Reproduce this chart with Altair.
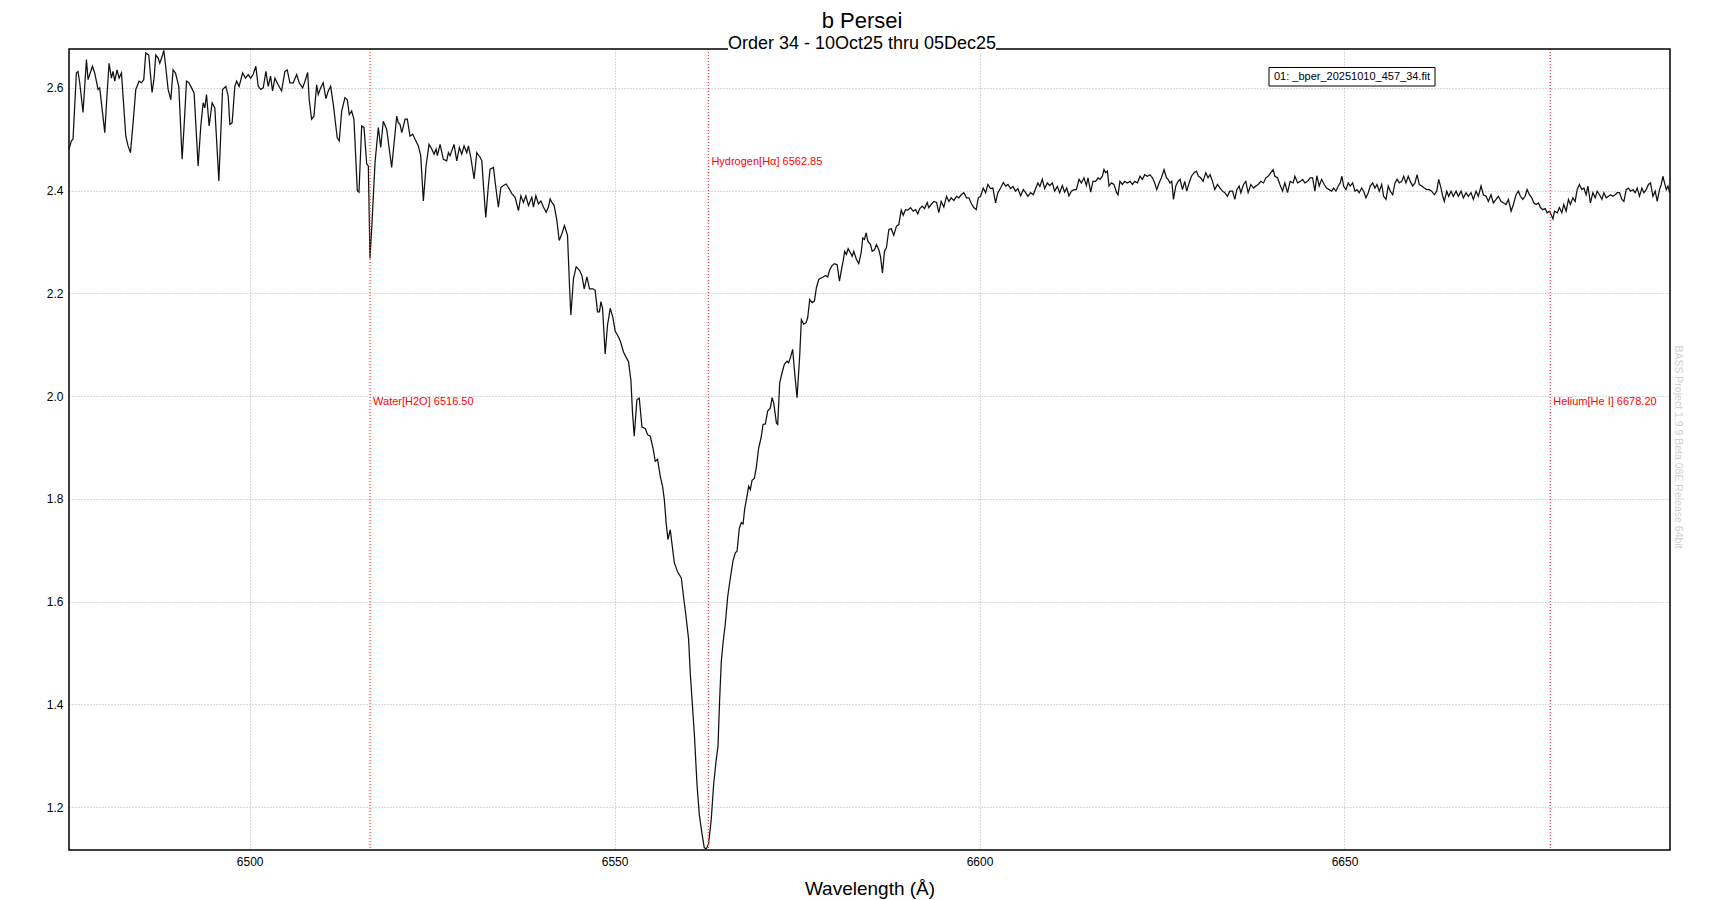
import altair as alt
import pandas as pd

# ---------------- data (wavelength in Angstrom, relative flux) ----------------
blue_continuum = [
    (6475.25,2.481),(6475.58,2.497),(6475.80,2.500),(6476.26,2.629),(6476.48,2.632),(6476.72,2.610),
    (6477.17,2.552),(6477.64,2.655),(6477.86,2.616),(6478.46,2.642),(6478.77,2.629),(6479.23,2.597),
    (6479.46,2.600),(6480.15,2.513),(6480.46,2.587),(6480.74,2.648),(6481.06,2.619),(6481.28,2.632),
    (6481.52,2.613),(6481.83,2.635),(6482.11,2.619),(6482.44,2.629),(6483.03,2.506),(6483.34,2.487),
    (6483.67,2.474),(6484.03,2.532),(6484.40,2.597),(6484.85,2.613),(6485.18,2.610),(6485.49,2.616),
    (6485.77,2.668),(6486.18,2.664),(6486.63,2.591),(6486.91,2.619),(6487.14,2.664),(6487.46,2.658),
    (6487.69,2.648),(6488.00,2.661),(6488.24,2.673),(6488.47,2.645),(6488.83,2.597),(6489.20,2.577),
    (6489.51,2.635),(6489.84,2.629),(6490.29,2.603),(6490.75,2.461),(6491.02,2.526),(6491.35,2.613),
    (6491.67,2.610),(6492.04,2.600),(6492.39,2.590),(6492.94,2.448),(6493.31,2.526),(6493.63,2.571),
    (6493.86,2.561),(6494.09,2.587),(6494.45,2.526),(6494.86,2.571),(6495.23,2.561),(6495.78,2.419),
    (6496.29,2.597),(6496.74,2.603),(6497.06,2.584),(6497.29,2.529),(6497.60,2.532),(6497.97,2.603),
    (6498.21,2.613),(6498.56,2.603),(6499.03,2.629),(6499.44,2.619),(6499.80,2.626),(6500.13,2.619),
    (6500.48,2.626),(6500.85,2.642),(6501.17,2.603),(6501.54,2.597),(6501.86,2.600),(6502.23,2.632),
    (6502.54,2.603),(6502.87,2.623),(6503.14,2.594),(6503.46,2.619),(6503.91,2.606),(6504.38,2.594),
    (6504.83,2.632),(6505.15,2.635),(6505.52,2.610),(6505.97,2.610),(6506.44,2.626),(6506.79,2.610),
    (6507.26,2.600),(6507.58,2.613),(6507.95,2.630),(6508.16,2.577),(6508.49,2.539),(6508.81,2.545),
    (6509.18,2.606),(6509.40,2.587),(6509.73,2.600),(6510.08,2.610),(6510.45,2.579),(6510.77,2.594),
    (6511.10,2.603),(6511.46,2.568),(6512.00,2.503),(6512.28,2.497),(6512.61,2.555),(6513.06,2.581),
    (6513.38,2.577),(6513.65,2.548),(6513.98,2.555),(6514.29,2.539),(6514.75,2.400),(6514.98,2.397),
    (6515.35,2.526),(6515.67,2.523),(6516.04,2.452),(6516.26,2.448),(6516.49,2.268),(6516.72,2.326),
    (6517.18,2.455),(6517.63,2.523),(6517.96,2.484),(6518.31,2.535),(6518.78,2.519),(6519.46,2.445),
    (6520.15,2.545),(6520.37,2.532),(6520.60,2.529),
]

blue_wing = [
    (6520.84,2.513),(6521.30,2.539),(6521.60,2.539),(6521.97,2.506),(6522.34,2.510),(6522.66,2.500),
    (6523.11,2.487),(6523.44,2.468),(6523.80,2.380),(6524.17,2.448),(6524.58,2.490),(6524.95,2.481),
    (6525.27,2.471),(6525.54,2.481),(6525.72,2.468),(6526.09,2.490),(6526.54,2.461),(6527.00,2.458),
    (6527.23,2.474),(6527.46,2.468),(6528.00,2.490),(6528.38,2.458),(6528.73,2.484),(6529.06,2.471),
    (6529.38,2.487),(6529.75,2.474),(6529.97,2.487),(6530.30,2.465),(6530.75,2.423),(6531.12,2.474),
    (6531.57,2.465),(6531.81,2.458),(6532.03,2.410),(6532.35,2.348),(6532.71,2.410),(6532.94,2.442),
    (6533.40,2.445),(6533.73,2.406),(6534.08,2.368),(6534.41,2.406),(6534.77,2.410),(6535.14,2.413),
    (6535.59,2.403),(6535.92,2.394),(6536.37,2.387),(6536.83,2.361),(6537.16,2.390),(6537.51,2.377),
    (6537.84,2.390),(6538.20,2.371),(6538.66,2.387),(6538.88,2.368),(6539.21,2.390),(6539.57,2.374),
    (6539.90,2.380),(6540.25,2.368),(6540.62,2.358),(6540.94,2.368),(6541.17,2.384),(6541.41,2.377),
    (6541.72,2.371),(6542.09,2.342),(6542.41,2.303),(6542.78,2.316),(6543.13,2.332),(6543.55,2.313),
    (6543.82,2.216),(6544.01,2.158),(6544.37,2.229),(6544.74,2.252),(6545.19,2.245),(6545.52,2.235),
    (6545.84,2.209),(6546.21,2.232),(6546.56,2.209),(6547.03,2.209),(6547.34,2.206),(6547.66,2.164),
    (6547.93,2.164),(6548.13,2.184),(6548.35,2.171),(6548.71,2.082),(6549.03,2.138),(6549.40,2.171),
    (6549.77,2.153),(6550.09,2.126),(6550.40,2.119),(6550.77,2.108),(6551.22,2.086),(6551.60,2.075),
    (6551.91,2.067),(6552.24,2.030),(6552.46,1.967),(6552.69,1.922),(6553.06,1.993),(6553.38,1.996),
    (6553.75,1.940),(6554.20,1.937),(6554.52,1.925),(6554.89,1.922),(6555.26,1.899),(6555.57,1.873),
    (6555.89,1.877),(6556.26,1.844),(6556.57,1.825),(6556.81,1.799),(6557.08,1.751),(6557.31,1.721),
    (6557.63,1.740),(6557.86,1.713),(6558.18,1.676),(6558.63,1.658),(6559.14,1.646),(6559.45,1.609),
    (6559.78,1.572),(6560.14,1.527),(6560.37,1.460),(6560.69,1.393),(6560.96,1.334),(6561.29,1.244),
    (6561.61,1.185),(6561.98,1.148),(6562.29,1.121),(6562.57,1.119),
]

red_wing = [
    (6562.88,1.129),(6563.25,1.177),(6563.57,1.244),(6563.90,1.289),(6564.17,1.319),(6564.39,1.408),
    (6564.62,1.483),(6564.86,1.520),(6565.17,1.557),(6565.49,1.609),(6565.86,1.646),(6566.23,1.680),
    (6566.54,1.695),(6566.78,1.698),(6567.09,1.743),(6567.37,1.754),(6567.60,1.751),(6567.82,1.780),
    (6568.15,1.806),(6568.37,1.825),(6568.60,1.818),(6568.83,1.836),(6569.15,1.840),(6569.42,1.862),
    (6569.74,1.899),(6570.07,1.919),(6570.34,1.945),(6570.66,1.946),(6570.97,1.971),(6571.34,1.977),
    (6571.58,1.997),(6571.80,1.987),(6572.17,1.948),(6572.35,1.945),(6572.62,2.026),(6572.95,2.046),
    (6573.26,2.062),(6573.63,2.068),(6573.85,2.065),(6574.09,2.075),(6574.40,2.091),(6574.63,2.052),
    (6575.00,1.997),(6575.36,2.078),(6575.59,2.149),(6575.91,2.140),(6576.24,2.143),(6576.46,2.153),
    (6576.73,2.188),(6577.06,2.182),(6577.38,2.185),(6577.65,2.211),(6577.97,2.227),(6578.30,2.230),
    (6578.57,2.232),(6578.89,2.235),(6579.20,2.232),(6579.48,2.246),(6579.80,2.254),(6580.12,2.258),
    (6580.49,2.256),(6580.81,2.224),(6581.04,2.243),(6581.31,2.263),(6581.53,2.282),(6581.77,2.276),
    (6582.00,2.287),(6582.31,2.279),(6582.55,2.272),(6582.77,2.282),(6583.14,2.266),(6583.45,2.258),
    (6583.78,2.279),(6584.00,2.308),(6584.24,2.305),(6584.47,2.318),(6584.69,2.302),(6585.06,2.295),
    (6585.29,2.282),(6585.61,2.285),(6585.88,2.295),(6586.20,2.285),(6586.43,2.272),(6586.70,2.240),
    (6586.98,2.282),(6587.25,2.289),(6587.57,2.324),(6587.90,2.326),(6588.25,2.313),(6588.62,2.331),
    (6588.94,2.334),(6589.27,2.362),(6589.54,2.352),(6589.86,2.363),(6590.17,2.362),(6590.54,2.367),
    (6590.91,2.360),(6591.23,2.363),(6591.54,2.355),(6591.82,2.365),(6592.15,2.370),(6592.46,2.365),
    (6592.83,2.377),(6593.05,2.367),(6593.38,2.373),(6593.74,2.379),(6594.11,2.377),(6594.42,2.357),
    (6594.75,2.379),(6595.11,2.368),(6595.48,2.389),(6595.80,2.379),(6596.12,2.386),(6596.48,2.381),
    (6596.85,2.389),(6597.16,2.386),(6597.49,2.392),(6597.85,2.396),(6598.22,2.386),(6598.54,2.386),
    (6598.87,2.375),(6599.22,2.367),(6599.55,2.363),(6599.83,2.386),
]

red_continuum = [
    (6600.14,2.389),(6600.51,2.405),(6600.83,2.396),(6601.14,2.412),(6601.51,2.404),(6601.83,2.405),
    (6602.20,2.376),(6602.51,2.396),(6602.89,2.405),(6603.26,2.416),(6603.57,2.409),(6603.89,2.412),
    (6604.26,2.404),(6604.57,2.408),(6604.94,2.399),(6605.26,2.404),(6605.63,2.390),(6606.00,2.402),
    (6606.31,2.396),(6606.63,2.389),(6607.00,2.396),(6607.37,2.392),(6607.69,2.404),(6608.00,2.415),
    (6608.27,2.408),(6608.60,2.422),(6608.92,2.404),(6609.29,2.415),(6609.60,2.410),(6609.98,2.415),
    (6610.29,2.399),(6610.66,2.408),(6610.98,2.396),(6611.35,2.410),(6611.66,2.397),(6611.94,2.405),
    (6612.25,2.390),(6612.58,2.399),(6612.94,2.402),(6613.27,2.402),(6613.63,2.422),(6613.95,2.415),
    (6614.31,2.425),(6614.64,2.410),(6614.86,2.425),(6615.23,2.397),(6615.54,2.418),(6615.91,2.418),
    (6616.23,2.425),(6616.50,2.422),(6616.83,2.428),(6617.05,2.441),(6617.28,2.435),(6617.52,2.438),
    (6617.74,2.409),(6618.07,2.415),(6618.42,2.412),(6618.79,2.396),(6618.97,2.392),(6619.24,2.418),
    (6619.57,2.412),(6619.89,2.418),(6620.26,2.415),(6620.62,2.418),(6620.95,2.412),(6621.26,2.418),
    (6621.63,2.415),(6621.99,2.428),(6622.32,2.422),(6622.63,2.431),(6623.00,2.428),(6623.36,2.431),
    (6623.69,2.425),(6624.00,2.415),(6624.28,2.402),(6624.60,2.415),(6624.92,2.425),(6625.28,2.441),
    (6625.61,2.425),(6625.83,2.422),(6626.10,2.415),(6626.34,2.418),(6626.57,2.383),(6626.89,2.409),
    (6627.20,2.418),(6627.48,2.422),(6627.80,2.402),(6628.12,2.418),(6628.39,2.399),(6628.71,2.415),
    (6629.04,2.428),(6629.39,2.435),(6629.72,2.438),(6630.00,2.428),(6630.31,2.425),(6630.63,2.418),
    (6631.00,2.435),(6631.31,2.425),(6631.59,2.431),(6631.92,2.418),(6632.23,2.402),(6632.60,2.412),
    (6632.96,2.405),(6633.29,2.399),(6633.60,2.396),(6633.97,2.389),(6634.29,2.399),(6634.66,2.399),
    (6634.98,2.383),(6635.25,2.402),(6635.57,2.409),(6635.80,2.396),(6636.17,2.412),(6636.48,2.418),
    (6636.80,2.396),(6637.17,2.412),(6637.54,2.405),(6637.86,2.409),(6638.17,2.412),(6638.54,2.418),
    (6638.91,2.415),(6639.23,2.425),(6639.54,2.428),(6639.91,2.435),(6640.23,2.441),(6640.46,2.428),
    (6640.83,2.425),(6641.15,2.412),(6641.52,2.399),(6641.83,2.415),(6642.20,2.396),(6642.56,2.418),
    (6642.97,2.415),(6643.21,2.428),(6643.58,2.415),(6643.93,2.418),(6644.26,2.422),(6644.58,2.415),
    (6644.95,2.418),(6645.30,2.425),(6645.63,2.425),(6645.95,2.399),(6646.22,2.429),(6646.54,2.409),
    (6646.87,2.422),(6647.22,2.412),(6647.55,2.405),(6647.91,2.402),(6648.24,2.399),(6648.51,2.405),
    (6648.83,2.399),(6649.15,2.409),(6649.42,2.415),(6649.65,2.428),(6649.88,2.409),(6650.20,2.402),
    (6650.51,2.415),(6650.79,2.409),(6651.12,2.415),(6651.43,2.399),(6651.71,2.402),(6652.02,2.396),
    (6652.35,2.405),(6652.62,2.399),(6652.94,2.386),(6653.26,2.396),(6653.53,2.409),(6653.86,2.415),
    (6654.18,2.405),(6654.45,2.412),(6654.77,2.399),(6655.10,2.412),(6655.37,2.389),(6655.69,2.383),
    (6656.00,2.409),(6656.28,2.399),(6656.61,2.392),(6656.92,2.415),(6657.20,2.422),(6657.51,2.415),
    (6657.84,2.418),(6658.11,2.428),(6658.43,2.415),(6658.74,2.428),(6659.02,2.418),(6659.35,2.409),
    (6659.66,2.415),(6659.94,2.431),(6660.25,2.412),(6660.58,2.409),(6660.94,2.405),(6661.27,2.402),
    (6661.62,2.402),(6661.95,2.399),(6662.31,2.392),(6662.64,2.399),(6662.91,2.422),(6663.23,2.405),
    (6663.46,2.389),(6663.68,2.379),(6664.01,2.399),(6664.28,2.389),(6664.60,2.399),(6664.91,2.389),
    (6665.29,2.399),(6665.60,2.389),(6665.97,2.399),(6666.29,2.386),(6666.66,2.396),(6666.97,2.389),
    (6667.34,2.396),(6667.66,2.383),(6668.03,2.399),(6668.34,2.389),(6668.71,2.409),(6669.03,2.392),
    (6669.40,2.389),(6669.71,2.379),(6670.08,2.392),(6670.40,2.376),(6670.77,2.383),(6671.08,2.389),
    (6671.45,2.379),(6671.82,2.376),(6672.14,2.373),(6672.46,2.383),(6672.83,2.360),(6673.14,2.373),
    (6673.51,2.392),(6673.83,2.399),(6674.10,2.389),(6674.43,2.383),(6674.75,2.389),(6675.02,2.402),
    (6675.34,2.392),(6675.67,2.386),(6675.95,2.376),(6676.26,2.373),(6676.58,2.376),(6676.85,2.367),
    (6677.18,2.363),(6677.50,2.365),(6677.77,2.357),(6678.09,2.360),(6678.32,2.353),(6678.56,2.345),
    (6678.78,2.360),(6679.15,2.357),(6679.45,2.367),(6679.78,2.357),(6680.05,2.373),(6680.37,2.360),
    (6680.69,2.383),(6680.96,2.373),(6681.29,2.386),(6681.60,2.379),(6681.88,2.402),(6682.19,2.412),
    (6682.52,2.402),(6682.80,2.405),(6683.11,2.392),(6683.35,2.409),(6683.70,2.376),(6684.03,2.396),
    (6684.35,2.386),(6684.62,2.399),(6684.94,2.392),(6685.27,2.383),(6685.54,2.396),(6685.86,2.386),
    (6686.17,2.389),(6686.45,2.392),(6686.78,2.389),(6687.09,2.392),(6687.37,2.396),(6687.68,2.396),
    (6688.01,2.383),(6688.28,2.379),(6688.60,2.402),(6688.91,2.405),(6689.19,2.399),(6689.52,2.402),
    (6689.83,2.396),(6690.11,2.405),(6690.42,2.389),(6690.75,2.405),(6691.02,2.396),(6691.34,2.402),
    (6691.65,2.412),(6691.93,2.415),(6692.26,2.389),(6692.57,2.399),(6692.85,2.379),(6693.16,2.402),
    (6693.40,2.412),(6693.63,2.428),(6693.85,2.415),(6694.09,2.402),(6694.32,2.409),(6694.55,2.396),
]

line_wavelengths = [6516.50, 6562.85, 6678.20]
line_labels = ["Water[H2O] 6516.50", "Hydrogen[H\u03b1] 6562.85", "Helium[He I] 6678.20"]
line_label_flux = [1.988, 2.455, 1.988]

x_ticks = [6500, 6550, 6600, 6650]
y_ticks = [1.2, 1.4, 1.6, 1.8, 2.0, 2.2, 2.4, 2.6]
x_domain = [6475.25, 6694.6]
y_domain = [1.1166, 2.6757]

title_text = "b Persei"
subtitle_text = "Order 34 - 10Oct25 thru 05Dec25"
legend_text = "01: _bper_20251010_457_34.fit"
watermark_text = "BASS Project 1.9.9 Beta 08E Release 64bit"

# ---------------- build ----------------
W, H = 1601, 801
FONT = "Liberation Sans"
NARROW = "Liberation Sans Narrow, Liberation Sans, Arial, sans-serif"

points = blue_continuum + blue_wing + red_wing + red_continuum
spec = pd.DataFrame(points, columns=["wavelength", "flux"])
lines_df = pd.DataFrame({"wavelength": line_wavelengths, "label": line_labels,
                         "ly": line_label_flux})
one = pd.DataFrame({"k": [0]})

x_scale = alt.Scale(domain=x_domain, nice=False, zero=False)
y_scale = alt.Scale(domain=y_domain, nice=False, zero=False)

x_axis = alt.Axis(values=x_ticks, format="d", title="Wavelength (\u00c5)", grid=True,
                  gridColor="#b4b4b4", gridDash=[1, 2], gridWidth=1, ticks=False, domain=False,
                  labelFont=NARROW, labelFontSize=12, labelColor="#000", labelPadding=6,
                  titleFont=FONT, titleFontSize=19, titleFontWeight="normal", titleColor="#000",
                  titleY=44, titleBaseline="alphabetic")
y_axis = alt.Axis(values=y_ticks, format=".1f", title=None, grid=True,
                  gridColor="#b4b4b4", gridDash=[1, 2], gridWidth=1, ticks=False, domain=False,
                  labelFont=NARROW, labelFontSize=12, labelColor="#000", labelPadding=6)

spectrum = alt.Chart(spec).mark_line(color="#111111", strokeWidth=1.25).encode(
    x=alt.X("wavelength:Q", scale=x_scale, axis=x_axis),
    y=alt.Y("flux:Q", scale=y_scale, axis=y_axis),
)

rules = alt.Chart(lines_df).mark_rule(color="#ff4040", strokeDash=[1, 2], strokeWidth=1.3).encode(
    x=alt.X("wavelength:Q", scale=x_scale)
)

labels = alt.Chart(lines_df).mark_text(align="left", baseline="middle", dx=3, color="#ff0000",
                                       font=NARROW, fontSize=11).encode(
    x=alt.X("wavelength:Q", scale=x_scale),
    y=alt.Y("ly:Q", scale=y_scale),
    text="label:N",
)

frame = alt.Chart(one).mark_rect(fill="transparent", stroke="#000", strokeWidth=1.5).encode(
    x=alt.value(0), x2=alt.value(W), y=alt.value(0), y2=alt.value(H)
)

gap = alt.Chart(one).mark_rect(fill="white").encode(
    x=alt.value(659), x2=alt.value(927), y=alt.value(-4), y2=alt.value(4)
)

title = alt.Chart(one).mark_text(font=FONT, fontSize=22, align="center", baseline="alphabetic",
                                 color="#000").encode(
    x=alt.value(793), y=alt.value(-21.5), text=alt.value(title_text)
)
subtitle = alt.Chart(one).mark_text(font=FONT, fontSize=18, align="center", baseline="alphabetic",
                                    color="#000").encode(
    x=alt.value(793), y=alt.value(-0.5), text=alt.value(subtitle_text)
)

legend_box = alt.Chart(one).mark_rect(fill="white", stroke="#000", strokeWidth=1).encode(
    x=alt.value(1200), x2=alt.value(1366), y=alt.value(18.5), y2=alt.value(37)
)
legend_label = alt.Chart(one).mark_text(font=NARROW, fontSize=11, align="left", baseline="middle",
                                        color="#000").encode(
    x=alt.value(1205), y=alt.value(28), text=alt.value(legend_text)
)

watermark = alt.Chart(one).mark_text(font=FONT, fontSize=10.5, angle=90, align="center",
                                     baseline="middle", color="#d0d0d0").encode(
    x=alt.value(1609), y=alt.value(398), text=alt.value(watermark_text)
)

chart = alt.layer(
    spectrum, rules, labels, frame, gap, title, subtitle, legend_box, legend_label, watermark
).properties(
    width=W, height=H,
    autosize=alt.AutoSizeParams(type="none"),
    padding={"left": 61, "top": 41, "right": 48, "bottom": 49},
    background="white",
).configure_view(strokeWidth=0)

chart.save("out.html", embed_options={"renderer": "svg", "actions": False})
